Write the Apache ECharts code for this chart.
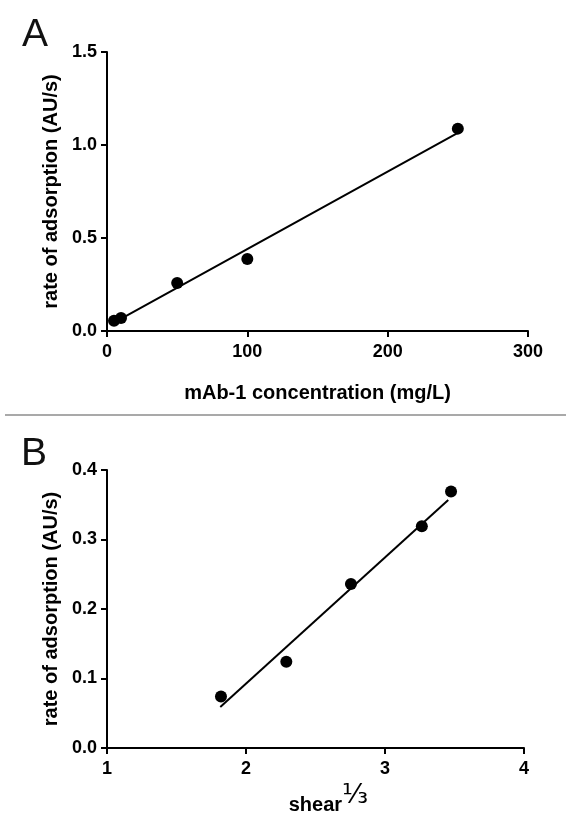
<!DOCTYPE html>
<html>
<head>
<meta charset="utf-8">
<script src="https://cdn.jsdelivr.net/npm/echarts@6/dist/echarts.min.js"></script>
<style>
html,body{margin:0;padding:0;background:#fff;}
#chart{width:566px;height:833px;}
</style>
</head>
<body>
<div id="chart"></div>
<script>
// Panel A data
const concA = [5, 10, 50, 100, 250];
const rateA = [0.055, 0.07, 0.258, 0.387, 1.088];
const fitAX = [5, 250];
const fitAY = [0.045, 1.065];
const ticksAX = [0, 100, 200, 300];
const ticksAY = [0.0, 0.5, 1.0, 1.5];

// Panel B data
const shearB = [1.82, 2.29, 2.755, 3.265, 3.475];
const rateB = [0.074, 0.124, 0.236, 0.319, 0.369];
const fitBX = [1.815, 3.455];
const fitBY = [0.059, 0.357];
const ticksBX = [1, 2, 3, 4];
const ticksBY = [0.0, 0.1, 0.2, 0.3, 0.4];

const FONT = '"Liberation Sans", Arial, sans-serif';
const pairs = (xs, ys) => xs.map((x, i) => [x, ys[i]]);

const axisCommon = {
  axisLine: {show: true, lineStyle: {color: '#000', width: 2}},
  axisTick: {show: true, length: 6, lineStyle: {color: '#000', width: 2}},
  splitLine: {show: false},
  axisLabel: {color: '#000', fontFamily: FONT, fontWeight: 'bold', fontSize: 18},
  nameTextStyle: {color: '#000', fontFamily: FONT, fontWeight: 'bold', fontSize: 20},
  nameLocation: 'middle'
};

const chart = echarts.init(document.getElementById('chart'), null, {renderer: 'canvas'});
chart.setOption({
  backgroundColor: '#fff',
  animation: false,
  grid: [
    {left: 107, right: 38, top: 52, height: 279},
    {left: 107, right: 42, top: 470, height: 278}
  ],
  xAxis: [
    Object.assign({}, axisCommon, {
      gridIndex: 0, type: 'value', min: ticksAX[0], max: ticksAX[ticksAX.length - 1], interval: 100,
      name: 'mAb-1 concentration (mg/L)', nameGap: 52,
      axisLabel: Object.assign({}, axisCommon.axisLabel, {margin: 12})
    }),
    Object.assign({}, axisCommon, {
      gridIndex: 1, type: 'value', min: ticksBX[0], max: ticksBX[ticksBX.length - 1], interval: 1,
      name: '{s|shear}{f|⅓}', nameGap: 34,
      nameTextStyle: {
        rich: {
          s: {fontFamily: FONT, fontWeight: 'bold', fontSize: 20, color: '#000', verticalAlign: 'bottom', padding: [0, 0, 0, 26], lineHeight: 33},
          f: {fontFamily: '"DejaVu Sans", sans-serif', fontWeight: 'normal', fontSize: 27, color: '#000', verticalAlign: 'top', lineHeight: 33}
        }
      },
      axisLabel: Object.assign({}, axisCommon.axisLabel, {margin: 12})
    })
  ],
  yAxis: [
    Object.assign({}, axisCommon, {
      gridIndex: 0, type: 'value', min: ticksAY[0], max: ticksAY[ticksAY.length - 1], interval: 0.5,
      name: 'rate of adsorption (AU/s)', nameGap: 46,
      axisLabel: Object.assign({}, axisCommon.axisLabel, {margin: 10, formatter: v => v.toFixed(1)})
    }),
    Object.assign({}, axisCommon, {
      gridIndex: 1, type: 'value', min: ticksBY[0], max: ticksBY[ticksBY.length - 1], interval: 0.1,
      name: 'rate of adsorption (AU/s)', nameGap: 46,
      axisLabel: Object.assign({}, axisCommon.axisLabel, {margin: 10, formatter: v => v.toFixed(1)})
    })
  ],
  series: [
    {type: 'line', xAxisIndex: 0, yAxisIndex: 0, data: pairs(fitAX, fitAY), symbol: 'none',
     lineStyle: {color: '#000', width: 2}, z: 2},
    {type: 'scatter', xAxisIndex: 0, yAxisIndex: 0, data: pairs(concA, rateA), symbol: 'circle', symbolSize: 12,
     itemStyle: {color: '#000', opacity: 1}, z: 3},
    {type: 'line', xAxisIndex: 1, yAxisIndex: 1, data: pairs(fitBX, fitBY), symbol: 'none',
     lineStyle: {color: '#000', width: 2}, z: 2},
    {type: 'scatter', xAxisIndex: 1, yAxisIndex: 1, data: pairs(shearB, rateB), symbol: 'circle', symbolSize: 12,
     itemStyle: {color: '#000', opacity: 1}, z: 3}
  ],
  graphic: [
    {type: 'text', left: 22, top: 16, style: {text: 'A', fontFamily: FONT, fontSize: 39, fill: '#111'}},
    {type: 'text', left: 21, top: 435, style: {text: 'B', fontFamily: FONT, fontSize: 39, fill: '#111'}},
    {type: 'line', shape: {x1: 5, y1: 415, x2: 566, y2: 415}, style: {stroke: '#8c8c8c', lineWidth: 1.5}}
  ]
});
</script>
</body>
</html>
